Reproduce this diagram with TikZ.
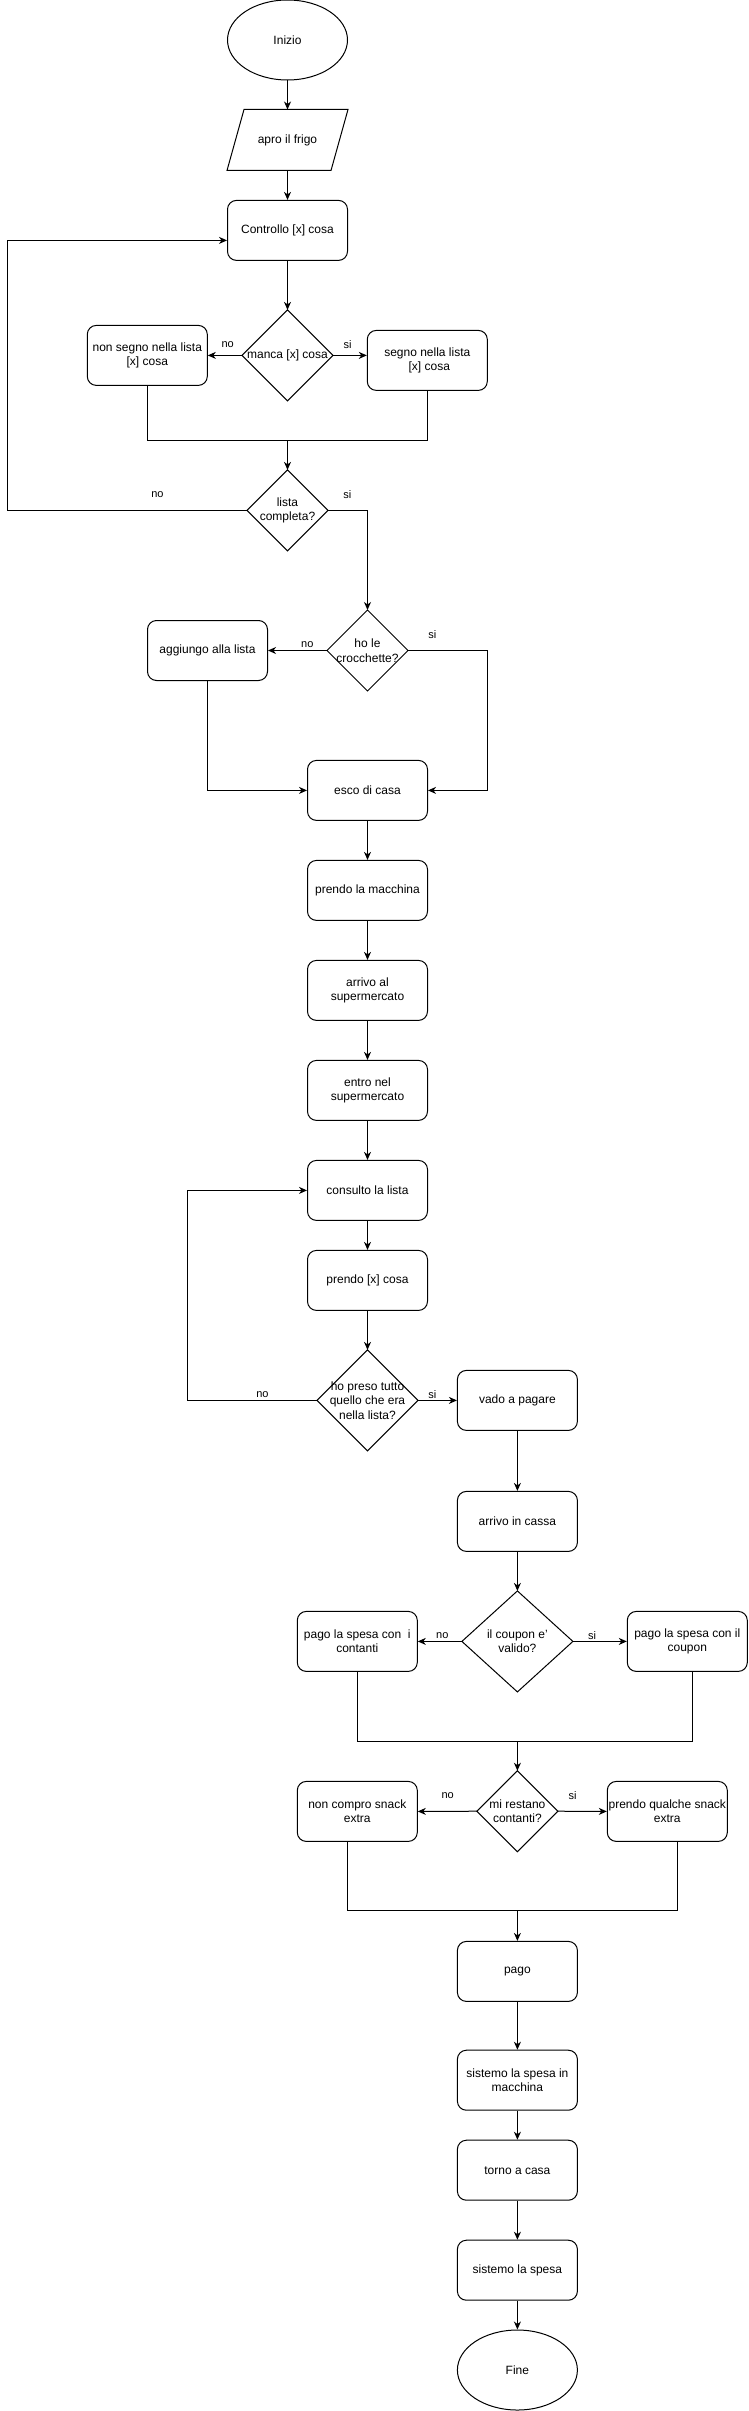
\documentclass[tikz,border=0pt]{standalone}
\usepackage{fontspec}
\setmainfont{Liberation Sans}
\usetikzlibrary{shapes.geometric,arrows.meta,calc}
\newcommand\mydiamond[1]{\draw (#1.north)--(#1.east)--(#1.south)--(#1.west)--cycle;}
\begin{document}
\begin{tikzpicture}[x=1pt,y=-1pt,line width=1pt,
  every node/.style={font=\fontsize{12}{14.5}\selectfont},
  box/.style={draw,rounded corners=9pt,minimum width=120,minimum height=60,inner sep=0pt,align=center},
  term/.style={draw,ellipse,minimum width=120,minimum height=80,inner sep=0pt},
  dia/.style={rectangle,minimum width=#1,minimum height=#1,inner sep=0pt,align=center},
  lbl/.style={font=\fontsize{11}{13}\selectfont,inner sep=0pt},
  arr/.style={-{Stealth[length=8pt,width=7pt,inset=2.5pt]}}]
\useasboundingbox (0,0) rectangle (748,2411);
% nodes
\node[term] (inizio) at (287.5,40) {Inizio};
\node[rectangle,minimum width=120,minimum height=60,inner sep=0pt] (apro) at (287.5,140) {apro il frigo};
\draw ($(apro.north west)+(17,0)$) -- (apro.north east) -- ($(apro.south east)+(-17,0)$) -- (apro.south west) -- cycle;
\node[box] (controllo) at (287.5,230.4) {Controllo [x] cosa};
\node[dia=90] (manca) at (287.5,355.4) {manca [x] cosa};
\mydiamond{manca}
\node[box] (nonsegno) at (147.3,355.4) {non segno nella lista\\{[x]} cosa};
\node[box] (segno) at (427.3,360.4) {segno nella lista\\\hspace*{4pt}{[x]} cosa};
\coordinate (m1) at (287.5,440.4);
\node[dia=80] (lista) at (287.5,510.4) {lista\\completa?};
\mydiamond{lista}
\coordinate (loopA) at (7.6,240.4);
\node[dia=80] (crocc) at (367.5,650.5) {ho le\\crocchette?};
\mydiamond{crocc}
\node[box] (aggiungo) at (207.5,650.5) {aggiungo alla lista};
\coordinate (croccR) at (487.1,650.5);
\node[box] (esco) at (367.5,790.4) {esco di casa};
\node[box] (macchina) at (367.5,890.4) {prendo la macchina};
\node[box] (arrivo) at (367.5,990.4) {arrivo al\\supermercato};
\node[box] (entro) at (367.5,1090.4) {entro nel\\supermercato};
\node[box] (consulto) at (367.5,1190.4) {consulto la lista};
\node[box] (prendox) at (367.5,1280.4) {prendo [x] cosa};
\node[dia=100] (tutto) at (367.5,1400.4) {ho preso tutto\\quello che era\\nella lista?};
\mydiamond{tutto}
\coordinate (loopB) at (187.5,1190.4);
\node[box] (vado) at (517.4,1400.4) {vado a pagare};
\node[box] (cassa) at (517.4,1521.4) {arrivo in cassa};
\node[rectangle,minimum width=110,minimum height=100,inner sep=0pt,align=center] (coupon) at (517.4,1641.4) {il coupon e'\\valido?};
\mydiamond{coupon}
\node[box] (contanti) at (357.3,1641.4) {pago la spesa con\ \ i\\contanti};
\node[box] (cbox) at (687.3,1641.4) {pago la spesa con il\\coupon};
\coordinate (m2) at (517.4,1741);
\node[dia=80] (restano) at (517.4,1811.2) {mi restano\\contanti?};
\mydiamond{restano}
\node[box] (noncompro) at (357.3,1811.4) {non compro snack\\extra};
\node[box] (snack) at (667.3,1811.4) {prendo qualche snack\\extra};
\coordinate (m3) at (517.4,1910.8);
\node[box] (pago) at (517.4,1971.4) {pago};
\node[box] (sistm) at (517.4,2080.2) {sistemo la spesa in\\macchina};
\node[box] (torno) at (517.4,2170.2) {torno a casa};
\node[box] (sistemo) at (517.4,2270.2) {sistemo la spesa};
\node[term] (fine) at (517.4,2370) {Fine};
% connectors
\draw[arr] (inizio) -- (apro);
\draw[arr] (apro) -- (controllo);
\draw[arr] (controllo) -- (manca);
\draw[arr] (manca.west) -- (nonsegno.east);
\draw[arr] (manca.east) -- (manca.east -| segno.west);
\draw (nonsegno.south) |- (m1) -| (segno.south);
\draw[arr] (m1) -- (lista.north);
\draw[arr] (lista.west) -| (loopA) -- (loopA -| controllo.west);
\draw[arr] (lista.east) -| (crocc.north);
\draw[arr] (crocc.west) -- (aggiungo.east);
\draw[arr] (crocc.east) -- (croccR) |- (esco.east);
\draw[arr] (aggiungo.south) |- (esco.west);
\draw[arr] (esco) -- (macchina);
\draw[arr] (macchina) -- (arrivo);
\draw[arr] (arrivo) -- (entro);
\draw[arr] (entro) -- (consulto);
\draw[arr] (consulto) -- (prendox);
\draw[arr] (prendox) -- (tutto.north);
\draw[arr] (tutto.west) -| (loopB) -- (consulto.west);
\draw[arr] (tutto.east) -- (vado.west);
\draw[arr] (vado) -- (cassa);
\draw[arr] (cassa) -- (coupon.north);
\draw[arr] (coupon.west) -- (contanti.east);
\draw[arr] (coupon.east) -- (cbox.west);
\draw (contanti.south) |- (m2) -| ($(cbox.south)+(5.4,0)$);
\draw[arr] (m2) -- (restano.north);
\draw[arr] (restano.west) -- (noncompro.east);
\draw[arr] (restano.east) -- (snack.west);
\draw ($(noncompro.south)+(-9.6,0)$) |- (m3) -| ($(snack.south)+(10,0)$);
\draw[arr] (m3) -- (pago);
\draw[arr] (pago) -- (sistm);
\draw[arr] (sistm) -- (torno);
\draw[arr] (torno) -- (sistemo);
\draw[arr] (sistemo) -- (fine);
% labels
\node[lbl] (l1) at (227.7,345) {no};
\node[lbl] (l2) at (347.7,345) {si};
\node[lbl] (l3) at (157.4,494.6) {no};
\node[lbl] (l4) at (347.3,494.6) {si};
\node[lbl] (l5) at (307.3,644.6) {no};
\node[lbl] (l6) at (432.3,635) {si};
\node[lbl] (l7) at (262.4,1395) {no};
\node[lbl] (l8) at (432.3,1395) {si};
\node[lbl] (l9) at (442.3,1635.7) {no};
\node[lbl] (l10) at (592,1635.7) {si};
\node[lbl] (l11) at (447.7,1796) {no};
\node[lbl] (l12) at (572.7,1796) {si};
\end{tikzpicture}
\end{document}
